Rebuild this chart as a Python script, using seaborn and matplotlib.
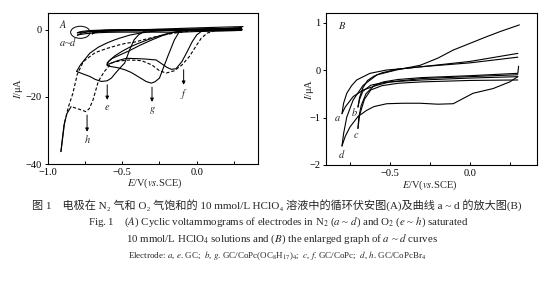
import matplotlib
matplotlib.use("Agg")
import matplotlib.pyplot as plt
import numpy as np
import pandas as pd
import seaborn as sns
from matplotlib.patches import Ellipse
from matplotlib.ticker import FixedLocator

# ---------------- Panel A data (O2 saturated, e ~ h) ----------------
e_fwd_E = [0.30, 0.10, -0.10, -0.25, -0.35, -0.39, -0.42, -0.45, -0.483, -0.517, -0.55, -0.572, -0.60, -0.639, -0.68, -0.717, -0.76, -0.805]
e_fwd_I = [0.6, 0.3, 0.1, -0.1, -0.4, -1.5, -3.0, -6.0, -9.9, -11.5, -13.2, -14.4, -15.2, -15.4, -14.8, -13.9, -13.2, -12.4]
e_ret_E = [-0.805, -0.78, -0.717, -0.66, -0.605, -0.55, -0.517, -0.45, -0.383, -0.30, -0.20, 0.0, 0.30]
e_ret_I = [-12.4, -10.5, -7.0, -5.2, -4.0, -3.0, -2.5, -1.6, -1.0, -0.5, -0.2, 0.1, 0.5]

g_fwd_E = [0.30, 0.0, -0.10, -0.12, -0.15, -0.195, -0.25, -0.28, -0.305, -0.34, -0.395, -0.44, -0.483, -0.53, -0.583, -0.60]
g_fwd_I = [0.4, 0.0, -0.3, -0.8, -3.0, -8.0, -14.4, -15.5, -15.9, -15.4, -13.9, -12.7, -11.9, -11.3, -10.9, -10.6]
g_ret_E = [-0.60, -0.60, -0.57, -0.52, -0.45, -0.38, -0.30, -0.217, -0.15, -0.10, 0.0, 0.30]
g_ret_I = [-10.6, -9.8, -8.6, -7.6, -6.2, -4.6, -3.0, -1.5, -0.7, -0.3, 0.0, 0.4]

f_fwd_E = [0.30, 0.10, 0.03, 0.0, -0.03, -0.07, -0.10, -0.139, -0.17, -0.20, -0.272, -0.35, -0.40, -0.472, -0.53, -0.60]
f_fwd_I = [0.5, 0.0, -0.5, -1.5, -3.5, -7.0, -9.5, -11.6, -11.8, -11.2, -9.0, -8.7, -8.6, -8.5, -9.2, -10.4]
f_ret_E = [-0.60, -0.59, -0.55, -0.50, -0.45, -0.40, -0.33, -0.27, -0.22, -0.17, -0.10, 0.0, 0.30]
f_ret_I = [-10.4, -9.4, -7.8, -6.4, -5.2, -4.2, -3.0, -2.1, -1.4, -0.9, -0.4, -0.1, 0.3]

h_fwd_E = [0.30, 0.15, 0.07, 0.03, 0.0, -0.05, -0.10, -0.15, -0.205, -0.25, -0.30, -0.37, -0.45, -0.52, -0.572, -0.62, -0.66, -0.695, -0.72, -0.742, -0.78, -0.842, -0.87, -0.89, -0.91]
h_fwd_I = [0.6, 0.2, -1.0, -2.5, -4.5, -8.0, -10.5, -12.2, -12.9, -12.2, -10.5, -9.2, -9.0, -9.3, -9.9, -12.5, -15.4, -20.9, -23.5, -24.4, -23.8, -22.9, -25.0, -28.5, -36.3]
h_ret_E = [-0.91, -0.885, -0.86, -0.83, -0.80, -0.76, -0.717, -0.68, -0.605, -0.52, -0.472, -0.42, -0.317, -0.25, -0.15, -0.05, 0.05, 0.30]
h_ret_I = [-36.3, -27.5, -23.0, -18.9, -13.2, -9.5, -8.0, -6.8, -5.6, -4.5, -4.0, -3.7, -2.5, -1.8, -1.0, -0.4, 0.0, 0.4]

# ---------------- Panel B data (N2 saturated, a ~ d) ----------------
a_low_E = [0.30, 0.0, -0.30, -0.50, -0.58, -0.667, -0.73, -0.78, -0.80]
a_low_I = [-0.10, -0.14, -0.18, -0.25, -0.32, -0.42, -0.56, -0.78, -0.92]
a_up_E = [-0.80, -0.79, -0.77, -0.74, -0.708, -0.625, -0.52, -0.396, -0.30, 0.0, 0.30]
a_up_I = [-0.92, -0.70, -0.49, -0.33, -0.21, -0.07, 0.0, 0.035, 0.07, 0.18, 0.35]

b_low_E = [0.30, 0.0, -0.30, -0.45, -0.55, -0.62, -0.67, -0.69, -0.70]
b_low_I = [-0.14, -0.17, -0.21, -0.24, -0.27, -0.32, -0.45, -0.62, -0.78]
b_up_E = [-0.70, -0.69, -0.67, -0.64, -0.60, -0.55, -0.45, -0.30, 0.0, 0.30]
b_up_I = [-0.78, -0.58, -0.38, -0.22, -0.13, -0.06, 0.02, 0.07, 0.15, 0.27]

c_low_E = [0.30, 0.0, -0.30, -0.45, -0.55, -0.62, -0.66, -0.69, -0.70]
c_low_I = [-0.21, -0.22, -0.25, -0.28, -0.33, -0.42, -0.62, -0.95, -1.23]
c_up_E = [-0.70, -0.695, -0.68, -0.65, -0.60, -0.54, -0.45, -0.30, 0.0, 0.30, 0.305]
c_up_I = [-1.23, -1.0, -0.75, -0.50, -0.33, -0.25, -0.20, -0.16, -0.12, -0.07, 0.08]

d_low_E = [0.30, 0.25, 0.146, 0.02, -0.042, -0.104, -0.20, -0.31, -0.42, -0.52, -0.60, -0.646, -0.70, -0.75, -0.78, -0.80]
d_low_I = [-0.14, -0.25, -0.39, -0.49, -0.60, -0.71, -0.72, -0.70, -0.70, -0.71, -0.77, -0.85, -0.98, -1.20, -1.40, -1.60]
d_up_E = [-0.80, -0.79, -0.77, -0.73, -0.667, -0.58, -0.46, -0.31, -0.20, -0.104, 0.0, 0.104, 0.19, 0.25, 0.31]
d_up_I = [-1.60, -1.34, -0.99, -0.63, -0.32, -0.10, 0.0, 0.10, 0.25, 0.42, 0.56, 0.70, 0.81, 0.88, 0.95]

# labels
a_to_d_labels = ["a", "b", "c", "d"]
e_to_h_labels = ["e", "f", "g", "h"]
caption_cn = "图 1    电极在 N₂ 气和 O₂ 气饱和的 10 mmol/L HClO₄ 溶液中的循环伏安图(A)及曲线 a ~ d 的放大图(B)"
caption_en1 = r"Fig. 1    ($A$) Cyclic voltammograms of electrodes in N$_2$ ($a$ ~ $d$) and O$_2$ ($e$ ~ $h$) saturated"
caption_en2 = r"10 mmol/L HClO$_4$ solutions and ($B$) the enlarged graph of $a$ ~ $d$ curves"
caption_en3 = r"Electrode: $a$, $e$. GC;  $b$, $g$. GC/CoPc(OC$_8$H$_{17}$)$_4$;  $c$, $f$. GC/CoPc;  $d$, $h$. GC/CoPcBr$_4$"

# ---------------- style ----------------
sns.set_theme(style="ticks")
plt.rcParams["font.family"] = ["Liberation Serif", "Noto Sans CJK SC", "DejaVu Sans"]
plt.rcParams["mathtext.fontset"] = "stix"
plt.rcParams["axes.linewidth"] = 0.8

fig = plt.figure(figsize=(5.54, 2.87), dpi=100)
axA = fig.add_axes([47.5 / 554, 1 - 164 / 287, 210.5 / 554, 151 / 287])
axB = fig.add_axes([326 / 554, 1 - 165 / 287, 211 / 554, 152 / 287])

LW = 0.8


def draw(ax, E, I, ls="-"):
    df = pd.DataFrame({"E": E, "I": I})
    sns.lineplot(data=df, x="E", y="I", sort=False, estimator=None, ax=ax,
                 color="black", lw=LW, linestyle=ls, legend=False)


dash = (0, (3.0, 1.8))

# Panel A: N2 curves (thick band near zero)
for E, I in [(a_low_E, a_low_I), (a_up_E, a_up_I), (b_low_E, b_low_I), (b_up_E, b_up_I),
             (c_low_E, c_low_I), (c_up_E, c_up_I), (d_low_E, d_low_I), (d_up_E, d_up_I)]:
    draw(axA, E, I)
# O2 curves
draw(axA, e_fwd_E, e_fwd_I)
draw(axA, e_ret_E, e_ret_I)
draw(axA, g_fwd_E, g_fwd_I)
draw(axA, g_ret_E, g_ret_I)
draw(axA, f_fwd_E, f_fwd_I)
draw(axA, f_ret_E, f_ret_I)
draw(axA, h_fwd_E[:-3], h_fwd_I[:-3], dash)
draw(axA, h_fwd_E[-4:], h_fwd_I[-4:])
draw(axA, h_ret_E[:2], h_ret_I[:2])
draw(axA, h_ret_E[1:], h_ret_I[1:], dash)

# Panel B
for E, I in [(a_low_E, a_low_I), (a_up_E, a_up_I), (b_low_E, b_low_I), (b_up_E, b_up_I),
             (c_low_E, c_low_I), (c_up_E, c_up_I), (d_low_E, d_low_I), (d_up_E, d_up_I)]:
    draw(axB, E, I)

# axes
for ax in (axA, axB):
    ax.set_xlabel("")
    ax.set_ylabel("")
    ax.tick_params(axis="x", which="both", direction="in", length=2.5, width=0.7,
                   labelsize=7.5, pad=3, colors="black")
    ax.tick_params(axis="y", which="both", direction="out", length=2.5, width=0.7,
                   labelsize=7.5, pad=1.5, colors="black")
    for s in ax.spines.values():
        s.set_visible(True)
        s.set_color("black")
        s.set_linewidth(0.8)

axA.set_xlim(-1.0, 0.41)
axA.set_ylim(-40, 5)
axA.xaxis.set_major_locator(FixedLocator([-1.0, -0.5, 0.0]))
axA.xaxis.set_minor_locator(FixedLocator([-0.75, -0.25, 0.25]))
axA.yaxis.set_major_locator(FixedLocator([0, -20, -40]))
axA.set_xticklabels(["\u22121.0", "\u22120.5", "0.0"])
axA.set_yticklabels(["0", "\u221220", "\u221240"])

axB.set_xlim(-0.9, 0.42)
axB.set_ylim(-2, 1.2)
axB.xaxis.set_major_locator(FixedLocator([-0.5, 0.0]))
axB.xaxis.set_minor_locator(FixedLocator([-0.75, -0.25, 0.25]))
axB.yaxis.set_major_locator(FixedLocator([1, 0, -1, -2]))
axB.set_xticklabels(["\u22120.5", "0.0"])
axB.set_yticklabels(["1", "0", "\u22121", "\u22122"])

for ax, lx, ly, yx in ((axA, 0.51, -0.085, -0.105), (axB, 0.49, -0.09, -0.048)):
    ax.set_xlabel(r"$E$/V($vs$.SCE)", fontsize=7.5)
    ax.set_ylabel(r"$I$/μA", fontsize=7.5)
    ax.xaxis.set_label_coords(lx, ly)
    ax.yaxis.set_label_coords(yx, 0.5)

# annotations panel A
axA.text(0.074, 0.93, r"$A$", transform=axA.transAxes, fontsize=7.5, ha="center", va="center")
axA.text(-0.86, -3.6, r"$a$~$d$", fontsize=7.5, ha="center", va="center")
axA.add_patch(Ellipse((-0.78, -0.75), 0.13, 3.6, fill=False, lw=0.7, ec="black"))

arrows = [("e", -0.60, -16.4, -20.9, -23.2),
          ("g", -0.30, -17.1, -21.5, -24.0),
          ("f", -0.088, -11.9, -16.4, -19.0),
          ("h", -0.735, -25.4, -30.4, -32.6)]
for lab, x, y0, y1, yl in arrows:
    axA.annotate("", xy=(x, y1), xytext=(x, y0),
                 arrowprops=dict(arrowstyle="-|>", color="black", lw=0.7,
                                 mutation_scale=5, shrinkA=0, shrinkB=0))
    axA.text(x, yl, f"${lab}$", fontsize=7.5, ha="center", va="center")

# annotations panel B
axB.text(0.074, 0.92, r"$B$", transform=axB.transAxes, fontsize=7.5, ha="center", va="center")
for lab, x, y in zip(a_to_d_labels, [-0.83, -0.72, -0.71, -0.80], [-1.03, -0.88, -1.37, -1.77]):
    axB.text(x, y, f"${lab}$", fontsize=7.5, ha="center", va="center")

# captions
fig.text(0.5, 1 - 205 / 287, caption_cn, ha="center", va="center", fontsize=8,
         family=["Liberation Serif", "Noto Sans CJK SC", "DejaVu Sans"])
fig.text(0.503, 1 - 222 / 287, caption_en1, ha="center", va="center", fontsize=7.8)
fig.text(0.509, 1 - 239 / 287, caption_en2, ha="center", va="center", fontsize=7.8)
fig.text(0.5, 1 - 255 / 287, caption_en3, ha="center", va="center", fontsize=6.5)

fig.savefig("out.png", dpi=100, facecolor="white")
